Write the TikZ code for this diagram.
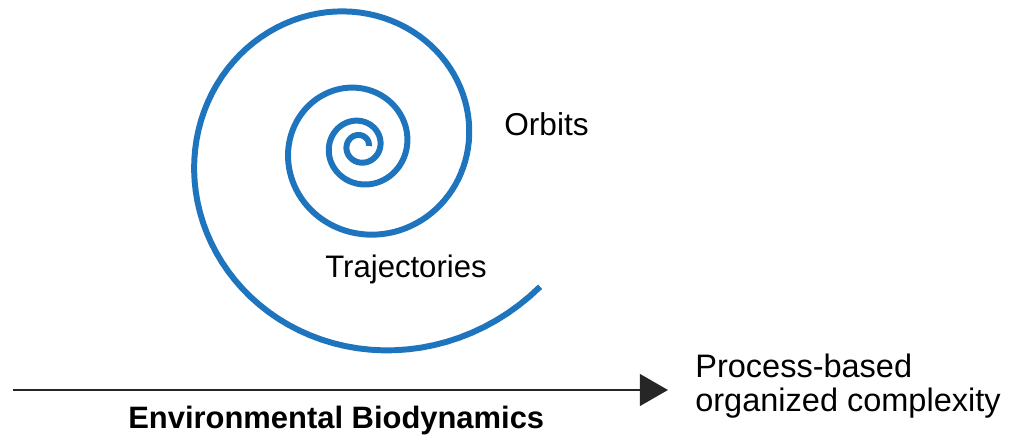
\documentclass[tikz,border=0pt]{standalone}
\usepackage{fontspec}
\setmainfont{Liberation Sans}
\usetikzlibrary{arrows.meta}
\definecolor{spiralblue}{RGB}{31,117,189}

\begin{document}
\begin{tikzpicture}[
      x=0.02cm, y=-0.02cm,
      lbl/.style={inner sep=0pt, anchor=base west,
        font=\fontsize{18}{21}\selectfont},
      orbit/.style={spiralblue, line width=3.4pt},
      axis/.style={-{Triangle[length=16pt,width=18pt]},
        line width=1.4pt, black!85}
    ]
    \useasboundingbox (0,0) rectangle (1009,439);

    % spiral: orbits winding out into trajectories
    \draw[orbit] plot[domain=-720:682, samples=400, variable=\t]
        ({360+47*exp(0.0023265*\t)*cos(\t)}, {146-47*exp(0.0023265*\t)*sin(\t)});

    \node[lbl] (orbits) at (504,136) {Orbits};
    \node[lbl, font=\fontsize{17.7}{21}\selectfont] (traj) at (325,277) {Trajectories};

    % process axis along the bottom (base = last line)
    \node[lbl, align=left, font=\fontsize{18.5}{19.8}\selectfont] (proc) at (695,412)
        {Process-based\\organized complexity};
    \node[lbl, font=\fontsize{17.6}{21}\selectfont\bfseries] (envbio) at (128,428)
        {Environmental Biodynamics};

    \coordinate (start) at (13,390);
    \draw[axis, shorten >=0.54cm] (start) -- (start -| proc.west);
\end{tikzpicture}
\end{document}
